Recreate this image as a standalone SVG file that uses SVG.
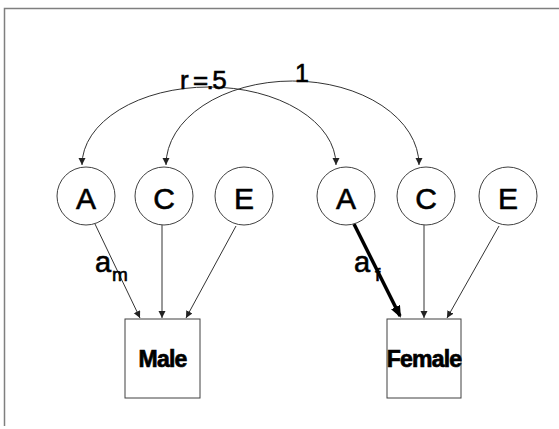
<svg xmlns="http://www.w3.org/2000/svg" width="559" height="429" viewBox="0 0 559 429">
  <style>
    .frame { stroke: #7f7f7f; stroke-width: 1.5; fill: none; }
    .latent circle { fill: #ffffff; stroke: #404040; stroke-width: 1; }
    .latent text { font-family: "Liberation Sans", Arial, sans-serif; font-size: 30px; text-anchor: middle; fill: #000; stroke: #000; stroke-width: 0.6; }
    .obs rect { fill: #ffffff; stroke: #404040; stroke-width: 1; }
    .obs text { font-family: "Liberation Sans", Arial, sans-serif; font-size: 23px; font-weight: bold; text-anchor: middle; fill: #000; stroke: #000; stroke-width: 0.7; letter-spacing: -0.8px; }
    .path { stroke: #333333; stroke-width: 1; fill: none; }
    .bold { stroke: #000000; stroke-width: 3.5; fill: none; }
    .lbl { font-family: "Liberation Sans", Arial, sans-serif; fill: #000; stroke: #000; stroke-width: 0.6; }
  </style>
  <defs>
    <marker id="arrow" markerUnits="userSpaceOnUse" markerWidth="10" markerHeight="8" refX="7" refY="3.5" orient="auto-start-reverse">
      <path d="M0,0 L7,3.5 L0,7 Z" fill="#222"/>
    </marker>
    <marker id="arrowBold" markerUnits="userSpaceOnUse" markerWidth="14" markerHeight="12" refX="10" refY="5" orient="auto">
      <path d="M0,0 L12,5 L0,10 Z" fill="#000"/>
    </marker>
  </defs>

  <!-- slide frame -->
  <path class="frame" d="M4.5,426 V8.5 H559"/>

  <!-- connectors -->
  <g id="connectors">
    <!-- correlations between twins -->
    <path class="path" d="M82,165 A127,78 0 0 1 336,165" marker-start="url(#arrow)" marker-end="url(#arrow)"/>
    <path class="path" d="M166,165 A126.5,84 0 0 1 419,165" marker-start="url(#arrow)" marker-end="url(#arrow)"/>
    <!-- male paths -->
    <path class="path" d="M95,224 L140,318" marker-end="url(#arrow)"/>
    <path class="path" d="M162,225 L162,318" marker-end="url(#arrow)"/>
    <path class="path" d="M236,226 L186,318" marker-end="url(#arrow)"/>
    <!-- female paths -->
    <path class="bold" d="M354,224 L400,316" marker-end="url(#arrowBold)"/>
    <path class="path" d="M424,225 L424,318" marker-end="url(#arrow)"/>
    <path class="path" d="M499,226 L447,318" marker-end="url(#arrow)"/>
  </g>

  <!-- path labels -->
  <g id="labels">
    <text class="lbl" x="180" y="89" font-size="26" letter-spacing="-1.5">r =.5</text>
    <text class="lbl" x="295" y="82" font-size="25">1</text>
    <text class="lbl" x="95" y="272" font-size="29">a</text>
    <text class="lbl" x="112" y="281" font-size="19">m</text>
    <text class="lbl" x="354" y="272" font-size="29">a</text>
    <text class="lbl" x="375" y="281" font-size="19">f</text>
  </g>

  <!-- male latent factors -->
  <g id="male-A" class="latent"><circle cx="86" cy="196" r="29"/><text x="86" y="209">A</text></g>
  <g id="male-C" class="latent"><circle cx="164" cy="196" r="29"/><text x="164" y="209">C</text></g>
  <g id="male-E" class="latent"><circle cx="244" cy="196" r="29"/><text x="244" y="209">E</text></g>

  <!-- female latent factors -->
  <g id="female-A" class="latent"><circle cx="346" cy="196" r="29"/><text x="346" y="209">A</text></g>
  <g id="female-C" class="latent"><circle cx="426" cy="196" r="29"/><text x="426" y="209">C</text></g>
  <g id="female-E" class="latent"><circle cx="508" cy="196" r="29"/><text x="508" y="209">E</text></g>

  <!-- observed phenotypes -->
  <g id="male" class="obs"><rect x="125" y="319" width="75" height="79"/><text x="162.5" y="367">Male</text></g>
  <g id="female" class="obs"><rect x="387" y="319" width="74" height="79"/><text x="424" y="367">Female</text></g>
</svg>
